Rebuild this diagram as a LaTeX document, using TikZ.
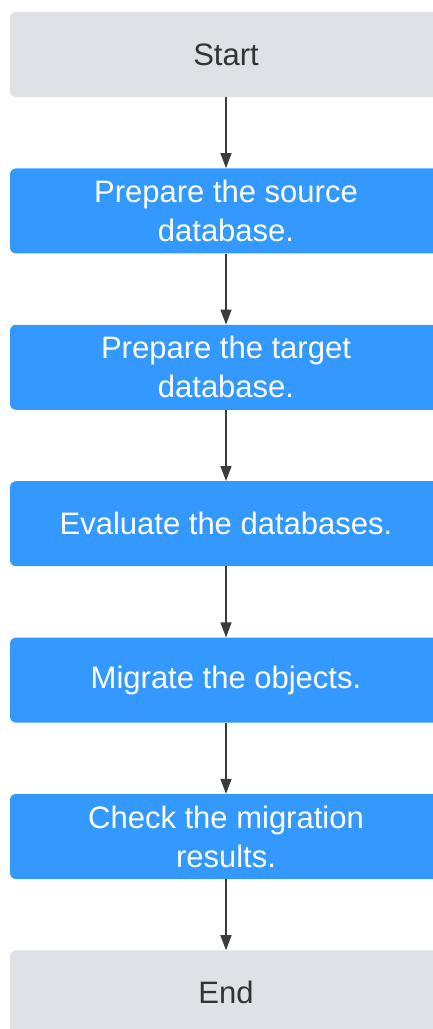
\documentclass[tikz,border=0pt]{standalone}
\usepackage{fontspec}
\setmainfont{Liberation Sans}
\usetikzlibrary{shapes,arrows,arrows.meta,calc,positioning}
\definecolor{termgray}{HTML}{DFE1E6}
\definecolor{stepblue}{HTML}{3399FF}
\definecolor{arrowgray}{HTML}{3C3C3C}

\begin{document}
\begin{tikzpicture}[x=1pt,y=1pt]

  \tikzstyle{term} = [rectangle,rounded corners=6pt,fill=termgray,text=black!80,minimum width=432pt,minimum height=85pt,font=\fontsize{31}{39}\selectfont,align=center,inner sep=0pt]
  \tikzstyle{stepbox} = [term,fill=stepblue,text=white]
  \tikzstyle{flow} = [draw=arrowgray,line width=1.3pt,-{Triangle[length=15pt,width=11pt]}]

  \useasboundingbox (0,0) rectangle (433,-1029);

  \node[term] (start) at (226,-54.5) {Start};
  \node[stepbox,below=71pt of start] (source) {Prepare the source\\database.};
  \node[stepbox,below=71pt of source] (target) {Prepare the target\\database.};
  \node[stepbox,below=71pt of target] (evaluate) {Evaluate the databases.};
  \node[stepbox,below=71pt of evaluate] (migrate) {Migrate the objects.};
  \node[stepbox,below=71pt of migrate] (check) {Check the migration\\results.};
  \node[term,below=71pt of check] (end) {End};

  \foreach \a/\b in {start/source,source/target,target/evaluate,evaluate/migrate,migrate/check,check/end}
    \draw[flow] (\a) -- (\b);

\end{tikzpicture}
\end{document}
